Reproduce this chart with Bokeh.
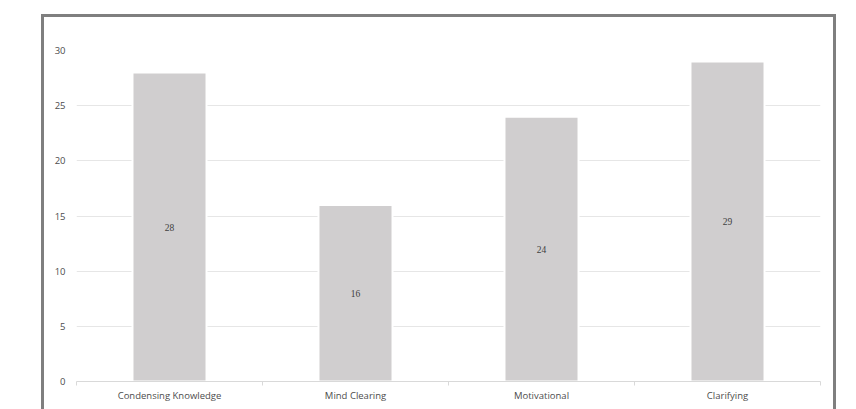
from bokeh.plotting import figure
from bokeh.models import ColumnDataSource, LinearAxis, Range1d, FixedTicker, LabelSet
from bokeh.embed import file_html
from bokeh.resources import INLINE

categories = ["Condensing Knowledge", "Mind Clearing", "Motivational", "Clarifying"]
values = [28, 16, 24, 29]
y_ticks = [0, 5, 10, 15, 20, 25, 30]

FONT = "Open Sans"

xpos = [i + 0.5 for i in range(len(categories))]
bounds = list(range(len(categories) + 1))
src = ColumnDataSource(dict(
    x=xpos,
    val=values,
    mid=[v / 2 for v in values],
    lbl=[str(v) for v in values],
))

p = figure(
    x_range=Range1d(0, len(categories)), y_range=Range1d(0, 30),
    width=795, height=400,
    output_backend="svg", toolbar_location=None,
    x_axis_location=None,
    min_border_left=32, min_border_right=19, min_border_top=33, min_border_bottom=36,
    styles={"margin-left": "41px", "margin-top": "14px",
            "border": "3px solid #7f7f7f"},
)
p.outline_line_color = None
p.background_fill_color = "white"
p.border_fill_color = "white"

p.vbar(x="x", top="val", width=0.398, source=src,
       fill_color="#d0cecf", line_color="white", line_width=2)

labels = LabelSet(x="x", y="mid", text="lbl", source=src,
                  text_align="center", text_baseline="middle",
                  text_font_size="9.5px", text_color="#404040", text_font=FONT)
p.add_layout(labels)

p.xgrid.grid_line_color = None
p.ygrid.grid_line_color = "#e6e6e6"
p.ygrid.grid_line_width = 1
p.ygrid.ticker = FixedTicker(ticks=y_ticks)

ya = p.yaxis[0]
ya.ticker = FixedTicker(ticks=y_ticks)
ya.axis_line_color = None
ya.major_tick_line_color = None
ya.minor_tick_line_color = None
ya.major_tick_out = 0
ya.major_label_standoff = 11
ya.major_label_text_font = FONT
ya.major_label_text_font_size = "9.5px"
ya.major_label_text_color = "#4d4d4d"

# category axis: labels at centres, minor ticks at category boundaries
xa = LinearAxis(ticker=FixedTicker(ticks=xpos, minor_ticks=bounds),
                major_label_overrides={x: c for x, c in zip(xpos, categories)})
xa.axis_line_color = "#d9d9d9"
xa.major_tick_line_color = None
xa.major_tick_out = 0
xa.major_tick_in = 0
xa.minor_tick_line_color = "#d9d9d9"
xa.minor_tick_out = 4
xa.minor_tick_in = 0
xa.major_label_standoff = 3
xa.major_label_text_font = FONT
xa.major_label_text_font_size = "9.5px"
xa.major_label_text_color = "#4d4d4d"
p.add_layout(xa, "below")

open("out.html", "w").write(file_html(p, INLINE))
